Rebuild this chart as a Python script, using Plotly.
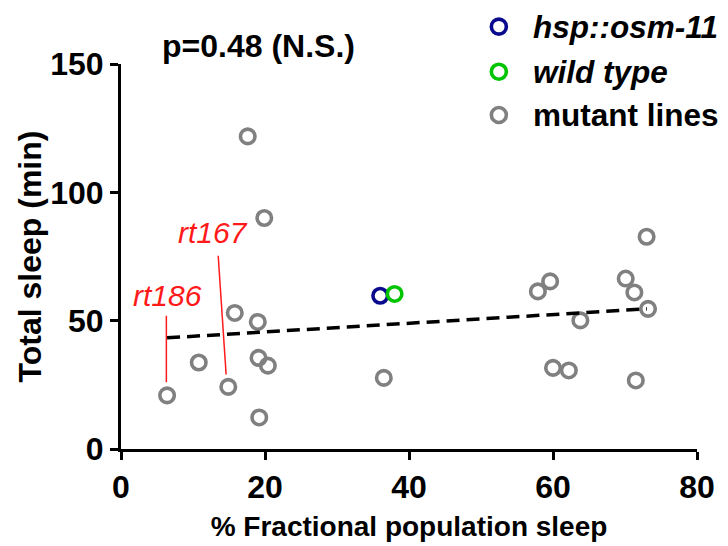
import plotly.graph_objects as go

# ---- data ----
mutant_x = [6.4, 10.8, 14.9, 15.8, 17.6, 19.0, 19.1, 19.2, 19.9, 20.4, 36.5,
            57.9, 59.6, 60.0, 62.2, 63.8, 70.1, 71.3, 71.5, 73.0, 73.2]
mutant_y = [20.9, 33.7, 24.2, 53.0, 121.8, 49.5, 35.5, 12.3, 90.0, 32.5, 27.7,
            61.4, 65.3, 31.6, 30.6, 50.1, 66.4, 61.0, 26.7, 82.7, 54.6]
hsp_x = [36.0]
hsp_y = [59.7]
wt_x = [38.0]
wt_y = [60.4]
fit_x = [6.4, 73.05]
fit_y = [43.3, 54.6]

label_names = ["rt186", "rt167"]
label_text_x = [6.4, 12.8]
label_text_y = [60.0, 84.3]
leader_x = [[6.3, 6.3], [13.5, 14.6]]
leader_y = [[51.9, 26.0], [75.3, 29.0]]

legend_names = ["<b><i>hsp::osm-11</i></b>", "<b><i>wild type</i></b>", "<b>mutant lines</b>"]
legend_colors = ["#0a0a8c", "#00c400", "#808080"]

x_ticks = [0, 20, 40, 60, 80]
y_ticks = [0, 50, 100, 150]

FONT = "Arial, Liberation Sans, sans-serif"
GRAY, BLUE, GREEN, RED = "#808080", "#0a0a8c", "#00c400", "#ff1a1a"

fig = go.Figure()

def circles(x, y, color):
    return go.Scatter(x=x, y=y, mode="markers", showlegend=False, cliponaxis=False,
                      marker=dict(symbol="circle-open", size=14.5, color=color,
                                  line=dict(width=3.6, color=color)))

# leader lines
for lx, ly in zip(leader_x, leader_y):
    fig.add_trace(go.Scatter(x=lx, y=ly, mode="lines", showlegend=False,
                             line=dict(color=RED, width=1.5)))

fig.add_trace(circles(mutant_x, mutant_y, GRAY))
fig.add_trace(circles(hsp_x, hsp_y, BLUE))
fig.add_trace(circles(wt_x, wt_y, GREEN))

fig.add_trace(go.Scatter(x=fit_x, y=fit_y, mode="lines", showlegend=False,
                         line=dict(color="black", width=3.5, dash="13px,7px")))

for name, tx, ty in zip(label_names, label_text_x, label_text_y):
    fig.add_annotation(x=tx, y=ty, xref="x", yref="y", text="<i>%s</i>" % name,
                       showarrow=False, font=dict(family=FONT, size=30, color=RED),
                       xanchor="center", yanchor="middle")

# title
fig.add_annotation(x=0.238, y=1.047, xref="paper", yref="paper",
                   text="<b>p=0.48 (N.S.)</b>", showarrow=False,
                   font=dict(family=FONT, size=32, color="black"),
                   xanchor="center", yanchor="middle")

# manual legend
leg_y = [1.097, 0.980, 0.8675]
for name, col, ly in zip(legend_names, legend_colors, leg_y):
    fig.add_shape(type="circle", xref="paper", yref="paper", xsizemode="pixel",
                  ysizemode="pixel", xanchor=0.656, yanchor=ly,
                  x0=-7.5, x1=7.5, y0=-7.5, y1=7.5, line=dict(color=col, width=3.6))
    fig.add_annotation(x=0.712, y=ly, xref="paper", yref="paper", text=name,
                       showarrow=False, font=dict(family=FONT, size=31.5, color="black"),
                       xanchor="left", yanchor="middle")

axis_common = dict(showgrid=False, zeroline=False, showline=True, linecolor="black",
                   linewidth=3, ticks="outside", ticklen=8, tickwidth=3,
                   tickcolor="black", tickfont=dict(family=FONT, size=32, color="black"))

fig.update_xaxes(range=[0, 80], tickvals=x_ticks, ticktext=[f"<b>{v}</b>" for v in x_ticks],
                 title=dict(text="<b>% Fractional population sleep</b>",
                            font=dict(family=FONT, size=28, color="black"), standoff=12),
                 **axis_common)
fig.update_yaxes(range=[0, 150], tickvals=y_ticks, ticktext=[f"<b>{v}</b>" for v in y_ticks],
                 title=dict(text="<b>Total sleep (min)</b>",
                            font=dict(family=FONT, size=32, color="black"), standoff=0),
                 **axis_common)

fig.update_layout(width=728, height=546, plot_bgcolor="white", paper_bgcolor="white",
                  margin=dict(l=121, r=31, t=64, b=97, autoexpand=False),
                  showlegend=False)

fig.write_html("out.html", config={"displayModeBar": False},
               post_script="document.body.style.margin='0px';")
